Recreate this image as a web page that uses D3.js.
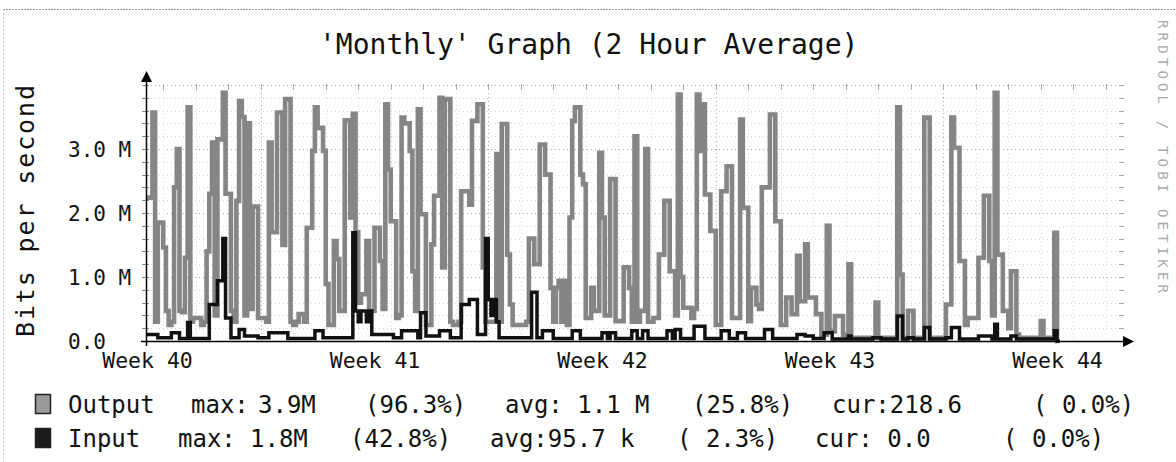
<!DOCTYPE html>
<html>
<head>
<meta charset="utf-8">
<script src="https://cdn.jsdelivr.net/npm/d3@7"></script>
<style>
  body { margin: 0; background: #fff; }
  text { font-family: "DejaVu Sans Mono", monospace; fill: #111; }
</style>
</head>
<body>
<svg id="chart" width="1176" height="462"></svg>
<script>
// 2 hour averages, Mbit/s, one row per day (12 samples)
const outputBps = [
  2.24,2.24,3.57,0.3,1.85,1.85,1.46,0.47,0.25,0.3,2.4,3.0,
  0.47,0.45,1.3,3.65,0.3,0.36,0.36,0.36,0.25,0.3,1.4,2.3,
  3.1,0.4,3.15,3.15,3.88,2.3,2.3,0.47,0.3,2.19,3.75,3.5,
  0.4,3.4,0.5,2.1,2.1,0.36,0.36,0.36,0.3,3.1,1.7,1.7,
  3.57,3.57,1.5,3.78,3.78,0.3,0.25,0.3,0.42,0.42,0.3,1.77,
  1.77,2.97,3.65,3.33,3.33,2.97,0.89,0.25,0.25,1.56,1.28,0.47,
  0.47,3.45,3.45,1.93,3.55,1.7,0.6,0.73,0.73,1.56,0.47,0.47,
  1.77,1.77,1.25,0.5,3.7,2.68,1.87,1.87,0.36,0.4,3.49,3.4,
  3.4,2.97,1.09,0.47,3.62,1.98,1.98,0.25,0.25,1.51,2.27,2.27,
  3.8,1.15,3.78,3.78,0.3,0.25,0.25,0.3,2.34,2.34,2.34,2.13,
  3.44,3.44,3.7,3.7,1.15,0.3,0.3,0.3,0.3,2.92,0.3,3.39,
  3.39,1.35,0.57,0.25,0.25,0.25,0.25,0.25,0.3,1.6,1.6,1.2,
  1.2,3.07,3.07,2.6,2.6,0.83,0.3,0.83,0.94,0.3,0.94,0.25,
  1.93,3.44,3.65,3.65,2.6,2.45,0.36,0.36,0.83,0.47,0.47,2.94,
  1.93,0.4,0.4,2.53,2.53,0.31,0.31,0.31,1.15,1.15,0.83,0.3,
  3.2,0.3,0.47,0.47,3.0,0.3,0.3,0.36,0.36,1.35,1.35,2.19,
  2.19,1.09,1.09,0.4,3.85,1.0,0.52,0.52,0.52,0.36,0.5,3.85,
  2.97,3.7,2.29,2.29,1.72,1.72,0.25,0.25,2.34,2.34,2.73,2.73,
  0.36,0.36,0.36,3.46,2.08,2.08,0.31,0.83,0.83,0.57,0.5,2.4,
  2.4,2.4,3.54,3.54,1.87,1.87,0.25,0.25,0.68,0.68,0.42,0.42,
  1.33,0.62,0.62,1.51,0.68,0.68,0.68,0.42,0.42,0.1,0.1,1.8,
  0.15,0.15,0.39,0.39,0.39,0.1,0.1,1.2,0.05,0.05,0.05,0.05,
  0.05,0.05,0.05,0.05,0.05,0.6,0.05,0.05,0.05,0.05,0.05,0.05,
  0.05,3.65,1.04,0.05,0.05,0.47,0.47,0.05,0.05,0.05,0.05,3.49,
  3.49,0.05,0.05,0.05,0.05,0.05,0.05,0.57,0.57,3.49,3.02,3.02,
  1.25,1.25,0.25,0.36,0.36,0.36,0.36,1.3,1.3,2.27,2.27,1.25,
  0.4,3.88,1.35,1.35,0.47,0.47,0.2,1.09,1.09,0.1,0.05,0.05,
  0.05,0.05,0.05,0.05,0.05,0.05,0.31,0.05,0.05,0.05,0.05,1.69,
  0.0
];
const inputBps = [
  0.1,0.1,0.1,0.1,0.05,0.05,0.05,0.05,0.05,0.13,0.13,0.13,
  0.04,0.04,0.04,0.29,0.04,0.04,0.04,0.04,0.04,0.04,0.04,0.57,
  0.57,0.57,0.94,0.94,1.6,0.36,0.36,0.05,0.05,0.05,0.18,0.18,
  0.08,0.08,0.08,0.08,0.08,0.05,0.05,0.05,0.05,0.13,0.13,0.13,
  0.13,0.13,0.13,0.13,0.04,0.04,0.04,0.04,0.04,0.04,0.04,0.04,
  0.04,0.04,0.16,0.16,0.16,0.05,0.05,0.05,0.05,0.05,0.05,0.05,
  0.05,0.05,0.05,0.05,1.69,0.47,0.3,0.47,0.47,0.3,0.47,0.1,
  0.1,0.1,0.1,0.1,0.1,0.1,0.1,0.05,0.05,0.05,0.16,0.16,
  0.16,0.16,0.16,0.16,0.05,0.44,0.44,0.08,0.08,0.08,0.08,0.08,
  0.16,0.16,0.16,0.16,0.05,0.05,0.05,0.05,0.57,0.57,0.57,0.65,
  0.65,0.65,0.1,0.1,0.1,1.6,0.65,0.4,0.65,0.3,0.05,0.05,
  0.05,0.05,0.05,0.05,0.05,0.05,0.05,0.05,0.05,0.05,0.76,0.76,
  0.05,0.05,0.16,0.16,0.16,0.16,0.04,0.04,0.04,0.04,0.04,0.04,
  0.04,0.16,0.16,0.16,0.04,0.04,0.04,0.04,0.04,0.04,0.04,0.04,
  0.13,0.13,0.04,0.13,0.13,0.04,0.04,0.04,0.04,0.04,0.04,0.16,
  0.16,0.04,0.04,0.16,0.16,0.04,0.04,0.04,0.04,0.04,0.04,0.04,
  0.16,0.16,0.04,0.18,0.18,0.04,0.04,0.04,0.04,0.04,0.23,0.23,
  0.23,0.23,0.04,0.04,0.04,0.04,0.04,0.04,0.16,0.16,0.16,0.04,
  0.04,0.04,0.13,0.13,0.13,0.04,0.04,0.04,0.04,0.04,0.04,0.04,
  0.18,0.18,0.18,0.04,0.04,0.04,0.04,0.04,0.04,0.04,0.04,0.04,
  0.1,0.1,0.1,0.08,0.08,0.08,0.04,0.04,0.04,0.04,0.13,0.13,
  0.13,0.03,0.03,0.03,0.03,0.03,0.03,0.08,0.03,0.03,0.03,0.03,
  0.03,0.03,0.03,0.03,0.05,0.05,0.05,0.03,0.03,0.03,0.03,0.03,
  0.03,0.39,0.39,0.03,0.03,0.05,0.05,0.03,0.03,0.03,0.03,0.21,
  0.21,0.03,0.03,0.03,0.03,0.03,0.03,0.05,0.05,0.21,0.21,0.21,
  0.03,0.03,0.03,0.03,0.03,0.03,0.03,0.08,0.08,0.08,0.08,0.08,
  0.03,0.26,0.03,0.03,0.03,0.03,0.03,0.08,0.08,0.03,0.03,0.03,
  0.03,0.03,0.03,0.03,0.03,0.03,0.03,0.03,0.03,0.03,0.03,0.16,
  0.0
];
const weekLabels = ["Week 40", "Week 41", "Week 42", "Week 43", "Week 44"];
const yTickValues = [0, 1, 2, 3];
const yTickLabels = ["0.0", "1.0 M", "2.0 M", "3.0 M"];
const titleText = "'Monthly' Graph (2 Hour Average)";
const outputStats = ["max:", "3.9M", "(96.3%)", "avg: 1.1 M", "(25.8%)", "cur:218.6", "( 0.0%)"];
const inputStats = ["max:", "1.8M", "(42.8%)", "avg:95.7 k", "( 2.3%)", "cur: 0.0", "( 0.0%)"];

const svg = d3.select("#chart");
const outColor = "#858585", inColor = "#111";

// hours since the start of the graph
let x = d3.scaleLinear().domain([0, 720]).range([147, 1122]);
let y = d3.scaleLinear().domain([0, 4]).range([341, 85]);

// scan edge
svg.append("line").attr("x1", 3).attr("x2", 1176).attr("y1", 9.5).attr("y2", 9.5)
    .attr("stroke", "#999").attr("stroke-dasharray", "2,1");
svg.append("line").attr("x1", 3.5).attr("x2", 3.5).attr("y1", 9).attr("y2", 462)
    .attr("stroke", "#ccc").attr("stroke-dasharray", "2,2");

// grid
let grid = svg.append("g");
let hLines = d3.range(1, 21).map(k => k * 0.2);
grid.selectAll(".hg").data(hLines).enter().append("line")
    .attr("x1", 147).attr("x2", 1122)
    .attr("y1", d => Math.round(y(d)) + 0.5).attr("y2", d => Math.round(y(d)) + 0.5)
    .attr("stroke", d => Math.abs(d - Math.round(d)) < 0.01 ? "#aaa" : "#d4d4d4")
    .attr("stroke-dasharray", "1,3");
let dayLines = d3.range(12, 720, 24);
grid.selectAll(".vg").data(dayLines).enter().append("line")
    .attr("x1", d => Math.round(x(d)) + 0.5).attr("x2", d => Math.round(x(d)) + 0.5)
    .attr("y1", 85).attr("y2", 341)
    .attr("stroke", d => (d - 84) % 168 === 0 ? "#aaa" : "#d8d8d8")
    .attr("stroke-dasharray", "1,3");
// little tick marks at grid ends
grid.selectAll(".ht").data(hLines).enter().append("line")
    .attr("x1", 142).attr("x2", 149).attr("y1", d => Math.round(y(d)) + 0.5).attr("y2", d => Math.round(y(d)) + 0.5)
    .attr("stroke", "#888");
grid.selectAll(".hr").data(hLines).enter().append("line")
    .attr("x1", 1119).attr("x2", 1124).attr("y1", d => Math.round(y(d)) + 0.5).attr("y2", d => Math.round(y(d)) + 0.5)
    .attr("stroke", "#aaa");
grid.selectAll(".vt").data(dayLines).enter().append("line")
    .attr("x1", d => Math.round(x(d)) + 0.5).attr("x2", d => Math.round(x(d)) + 0.5)
    .attr("y1", 84).attr("y2", 90).attr("stroke", "#aaa");

// data lines
function points(arr) {
    let p = arr.map((v, i) => [i * 2, v]);
    p.push([arr.length * 2, arr[arr.length - 1]]);
    return p;
}
let lineGen = d3.line()
    .x(d => x(d[0]))
    .y(d => y(d[1]))
    .curve(d3.curveStepAfter);

svg.append("path").attr("d", lineGen(points(outputBps)))
    .attr("fill", "none").attr("stroke", outColor).attr("stroke-width", 4.6)
    .attr("stroke-linejoin", "miter");
svg.append("path").attr("d", lineGen(points(inputBps)))
    .attr("fill", "none").attr("stroke", inColor).attr("stroke-width", 3.5)
    .attr("stroke-linejoin", "miter");

// axes lines with arrows
svg.append("line").attr("x1", 146.5).attr("x2", 146.5).attr("y1", 346).attr("y2", 80)
    .attr("stroke", "#000").attr("stroke-width", 1.5);
svg.append("path").attr("d", "M146.5,71 L141,82 L152,82 Z").attr("fill", "#000");
svg.append("line").attr("x1", 141).attr("x2", 1126).attr("y1", 341.5).attr("y2", 341.5)
    .attr("stroke", "#000").attr("stroke-width", 1.5);
svg.append("path").attr("d", "M1134,341.5 L1123,336 L1123,347 Z").attr("fill", "#000");

// x labels
let xAxis = d3.axisBottom(x)
    .tickValues(weekLabels.map((d, i) => i * 168))
    .tickFormat((d, i) => weekLabels[i])
    .tickSize(0);
let xg = svg.append("g").attr("transform", "translate(0,341)").call(xAxis);
xg.select(".domain").remove();
xg.selectAll("text").attr("y", 27).attr("dy", null)
    .style("font-family", "DejaVu Sans Mono").style("font-size", "21.5px").attr("fill", "#111");

// y labels, left aligned
let yAxis = d3.axisLeft(y)
    .tickValues(yTickValues)
    .tickFormat((d, i) => yTickLabels[i])
    .tickSize(0);
let yg = svg.append("g").call(yAxis);
yg.select(".domain").remove();
yg.selectAll("text").attr("x", 68).attr("dy", "0.36em").attr("text-anchor", "start")
    .style("font-family", "DejaVu Sans Mono").style("font-size", "21px").attr("fill", "#111");

// title and side texts
svg.append("text").attr("x", 319).attr("y", 54).attr("font-size", 28).text(titleText);
svg.append("text").attr("transform", "translate(34,211) rotate(-90)")
    .attr("text-anchor", "middle").attr("font-size", 25)
    .attr("textLength", 252).attr("lengthAdjust", "spacing").text("Bits per second");
svg.append("text").attr("transform", "translate(1158,20) rotate(90)")
    .attr("font-size", 14).style("fill", "#aaa")
    .attr("textLength", 273).attr("lengthAdjust", "spacing").text("RRDTOOL / TOBI OETIKER");

// legend
let legend = [
    {name: "Output", color: "#999", stats: outputStats, cols: [191, 258, 365, 505, 692, 832, 1033], y: 413},
    {name: "Input", color: "#1a1a1a", stats: inputStats, cols: [178, 250, 350, 490, 677, 815, 1003], y: 447}
];
legend.forEach(row => {
    svg.append("rect").attr("x", 35.5).attr("y", row.y - 18.5).attr("width", 15).attr("height", 19)
        .attr("fill", row.color).attr("stroke", "#222").attr("stroke-width", 1.5);
    svg.append("text").attr("x", 68).attr("y", row.y).attr("font-size", 24).text(row.name);
    row.stats.forEach((s, i) => {
        svg.append("text").attr("x", row.cols[i]).attr("y", row.y)
            .attr("font-size", 24).attr("xml:space", "preserve").text(s);
    });
});
</script>
</body>
</html>
